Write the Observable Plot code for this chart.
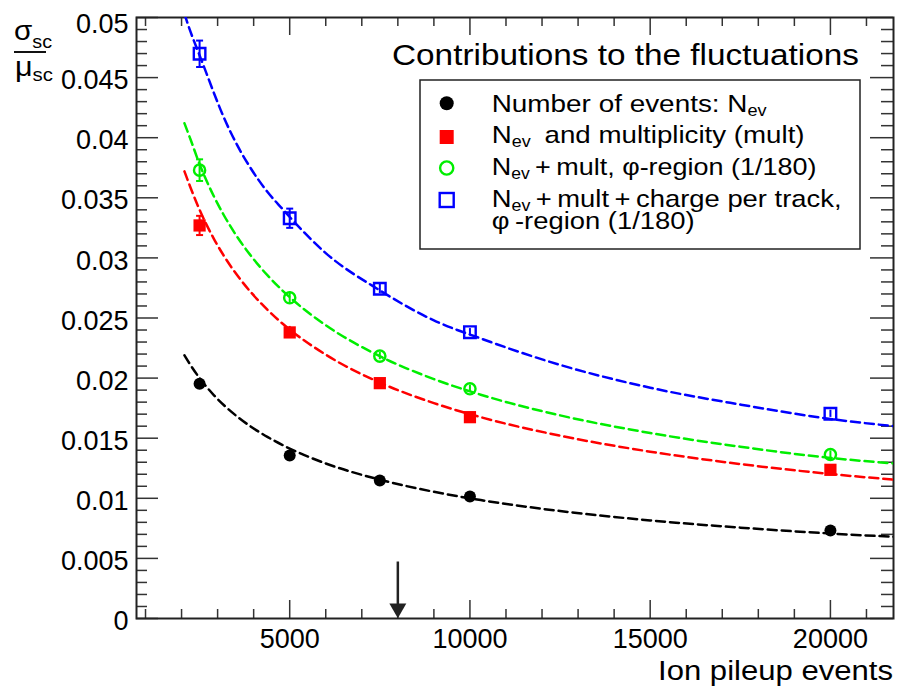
<!DOCTYPE html>
<html><head><meta charset="utf-8">
<script src="https://cdn.jsdelivr.net/npm/d3@7"></script>
<script src="https://cdn.jsdelivr.net/npm/@observablehq/plot@0.6"></script>
<style>
html,body{margin:0;padding:0;background:#fff;overflow:hidden;}
#chart{position:relative;width:899px;height:687px;}
</style></head><body><div id="chart"></div>
<script>
// ---- data ----
const eventsN = [2500, 5000, 7500, 10000, 20000];
const nevOnly = [0.01953, 0.01356, 0.01148, 0.01015, 0.00732];
const nevOnlyErr = [0.0002, 0.0002, 0.0002, 0.0002, 0.0002];
const nevMult = [0.0327, 0.0238, 0.01958, 0.01675, 0.01237];
const nevMultErr = [0.0008, 0.0005, 0.0003, 0.0003, 0.0003];
const nevMultPhi = [0.0373, 0.02668, 0.02183, 0.01911, 0.01364];
const nevMultPhiErr = [0.0009, 0.0005, 0.0003, 0.0003, 0.0003];
const nevMultChargePhi = [0.04698, 0.0333, 0.02743, 0.02382, 0.01703];
const nevMultChargePhiErr = [0.0011, 0.0008, 0.0004, 0.0003, 0.0003];

// dashed fit curves
const fitN = [2080, 2250, 2480, 2660, 2900, 3170, 3540, 3910, 4380, 4790, 5000, 6000, 7500, 9000, 10300, 12500, 15000, 17500, 20000, 21750];
const fitNevOnly = [0.0219, 0.02108, 0.02008, 0.01939, 0.01857, 0.01776, 0.01681, 0.01599, 0.01511, 0.01445, 0.01414, 0.0129, 0.01155, 0.01054, 0.00985, 0.00894, 0.00816, 0.00756, 0.00707, 0.0068];
const fitNevMult = [0.0372, 0.03584, 0.03414, 0.03296, 0.03157, 0.03019, 0.02857, 0.02719, 0.02569, 0.02456, 0.02404, 0.02195, 0.01963, 0.01792, 0.01675, 0.01521, 0.01388, 0.01285, 0.01202, 0.01155];
const fitNevMultPhi = [0.0412, 0.03985, 0.03795, 0.03664, 0.0351, 0.03357, 0.03177, 0.03023, 0.02856, 0.02731, 0.02673, 0.0244, 0.02182, 0.01992, 0.01862, 0.0169, 0.01543, 0.01429, 0.01336, 0.0129];
const fitNevMultChargePhi = [0.0503, 0.0488, 0.047, 0.0456, 0.0437, 0.0417, 0.0394, 0.0375, 0.0355, 0.0341, 0.0334, 0.0304, 0.0273, 0.0248, 0.0233, 0.0211, 0.0192, 0.0178, 0.0166, 0.016];

const xMajorTicks = [5000, 10000, 15000, 20000];
const xTickLabels = ["5000", "10000", "15000", "20000"];
const yMajorTicks = [0, 0.005, 0.01, 0.015, 0.02, 0.025, 0.03, 0.035, 0.04, 0.045, 0.05];
const yTickLabels = ["0", "0.005", "0.01", "0.015", "0.02", "0.025", "0.03", "0.035", "0.04", "0.045", "0.05"];
const xDomain = [750, 21750];
const yDomain = [0, 0.05];
const arrowAt = [8000];
const arrowTop = [0.0047];

// ---- layout ----
const W = 899, H = 687, ML = 136, MR = 6, MT = 17, MB = 69;
const IW = W - ML - MR, IH = H - MT - MB;
const FONT = "'Liberation Sans', Arial, Helvetica, sans-serif";

const xMinorTicks = d3.range(1000, 21001, 1000).filter(v => !xMajorTicks.includes(v));
const yMinorTicks = d3.range(1, 50).filter(i => i % 5 !== 0).map(i => i / 1000);

const series = [
  {key: "nev", vals: nevOnly, err: nevOnlyErr, fit: fitNevOnly, color: "#000000"},
  {key: "mult", vals: nevMult, err: nevMultErr, fit: fitNevMult, color: "#ff0000"},
  {key: "phi", vals: nevMultPhi, err: nevMultPhiErr, fit: fitNevMultPhi, color: "#00ee00"},
  {key: "charge", vals: nevMultChargePhi, err: nevMultChargePhiErr, fit: fitNevMultChargePhi, color: "#0000ff"}
];
const rows = series.flatMap(s => eventsN.map((n, i) => ({n, v: s.vals[i], e: s.err[i], key: s.key, color: s.color})));
const rowsOf = k => rows.filter(r => r.key === k);
const capped = rows.filter(r => r.e >= 0.0006);
const capSymbol = {draw(ctx, size) { const r = Math.sqrt(size / Math.PI); ctx.moveTo(-r, 0); ctx.lineTo(r, 0); }};
const arrows = arrowAt.map((x, i) => ({x, top: arrowTop[i]}));
const fmtX = d => xTickLabels[xMajorTicks.indexOf(d)];
const fmtY = d => yTickLabels[yMajorTicks.indexOf(d)];

const tickStyle = {stroke: "#333", strokeWidth: 1.5};
const plot = Plot.plot({
  width: W, height: H,
  marginLeft: ML, marginRight: MR, marginTop: MT, marginBottom: MB,
  x: {domain: xDomain, axis: null},
  y: {domain: yDomain, axis: null},
  style: {fontFamily: FONT, fontSize: "27px", color: "black", background: "white"},
  marks: [
    // inward ticks on all four sides
    Plot.tickY(yMinorTicks, {y: d => d, insetRight: IW - 11, ...tickStyle}),
    Plot.tickY(yMajorTicks, {y: d => d, insetRight: IW - 22, ...tickStyle}),
    Plot.tickY(yMinorTicks, {y: d => d, insetLeft: IW - 12, ...tickStyle}),
    Plot.tickY(yMajorTicks, {y: d => d, insetLeft: IW - 23, ...tickStyle}),
    Plot.tickX(xMinorTicks, {x: d => d, insetTop: IH - 9, ...tickStyle}),
    Plot.tickX(xMajorTicks, {x: d => d, insetTop: IH - 18, ...tickStyle}),
    Plot.tickX(xMinorTicks, {x: d => d, insetBottom: IH - 9, ...tickStyle}),
    Plot.tickX(xMajorTicks, {x: d => d, insetBottom: IH - 18, ...tickStyle}),
    Plot.axisY({ticks: yMajorTicks.slice(0, -1), tickSize: 0, tickPadding: 8, dy: 3, fontSize: 27, tickFormat: fmtY, label: null}),
    Plot.axisY({ticks: yMajorTicks.slice(-1), tickSize: 0, tickPadding: 8, dy: 7, fontSize: 27, tickFormat: fmtY, label: null}),
    Plot.axisX({ticks: xMajorTicks, tickSize: 0, tickPadding: 10, fontSize: 27, tickFormat: fmtX, label: null}),
    Plot.frame({stroke: "#222", strokeWidth: 2}),
    // arrow at 8000
    Plot.ruleX(arrows, {x: "x", y1: "top", y2: () => 0, stroke: "#222", strokeWidth: 2.5, insetBottom: 8}),
    Plot.dot(arrows, {x: "x", y: () => 0, symbol: "triangle", rotate: 180, r: 6.3, fill: "#222", stroke: "none", dy: -10}),
    // error bars
    Plot.ruleX(rows, {x: "n", y1: r => r.v - r.e, y2: r => r.v + r.e, stroke: "color", strokeWidth: 2}),
    Plot.dot(capped, {x: "n", y: r => r.v + r.e, symbol: capSymbol, r: 3.5, stroke: "color", fill: "none", strokeWidth: 2}),
    Plot.dot(capped, {x: "n", y: r => r.v - r.e, symbol: capSymbol, r: 3.5, stroke: "color", fill: "none", strokeWidth: 2}),
    // markers
    Plot.dot(rowsOf("nev"), {x: "n", y: "v", r: 6, fill: "#000", symbol: "circle"}),
    Plot.dot(rowsOf("mult"), {x: "n", y: "v", r: 6.9, fill: "#ff0000", symbol: "square"}),
    Plot.dot(rowsOf("phi"), {x: "n", y: "v", r: 5.6, fill: "none", stroke: "#00ee00", strokeWidth: 2.4, symbol: "circle"}),
    Plot.dot(rowsOf("charge"), {x: "n", y: "v", r: 6.5, fill: "none", stroke: "#0000ff", strokeWidth: 2.4, symbol: "square"}),
    // fits
    ...series.map(s => Plot.line(fitN.map((n, i) => ({n, v: s.fit[i]})), {x: "n", y: "v", stroke: s.color, strokeWidth: 2.5, strokeDasharray: "9,5", curve: "monotone-x", clip: true}))
  ]
});
document.getElementById("chart").appendChild(plot);

// ---- text, legend (drawn into the same SVG) ----
const svg = d3.select(plot);
// lines: array of arrays of parts; first line sets the stretch factor
function addText({x, y, width, anchor = "start", size, lines, lineGap = 0}) {
  const t = svg.append("text").attr("font-family", FONT).attr("font-size", size)
    .attr("fill", "black").attr("text-anchor", anchor).attr("x", 0).attr("y", 0);
  const firstLine = [];
  lines.forEach((parts, li) => {
    let shift = 0;
    parts.forEach((p, pi) => {
      const ts = t.append("tspan").text(p.t);
      const want = p.sub ? (p.dy != null ? p.dy : size * 0.2) : 0;
      if (li > 0 && pi === 0) { ts.attr("x", 0).attr("y", lineGap * li); shift = 0; }
      else if (want !== shift) { ts.attr("dy", want - shift); }
      shift = want;
      if (p.sub) ts.attr("font-size", p.size || size * 0.65);
      if (li === 0) firstLine.push(ts.node());
    });
  });
  const w = d3.sum(firstLine, n => n.getComputedTextLength());
  const sx = width ? width / w : 1;
  t.attr("transform", `translate(${x},${y}) scale(${sx},1)`);
  return t;
}

// title
addText({x: 392, y: 65, width: 467, size: 30, lines: [[{t: "Contributions to the fluctuations"}]]});
// legend box
svg.append("rect").attr("x", 420).attr("y", 80).attr("width", 440).attr("height", 169)
  .attr("fill", "white").attr("stroke", "#222").attr("stroke-width", 1.5);
const lx = 446.7;
svg.append("circle").attr("cx", lx).attr("cy", 103.3).attr("r", 7).attr("fill", "#000");
svg.append("rect").attr("x", lx - 7).attr("y", 130).attr("width", 14).attr("height", 14).attr("fill", "#ff0000");
svg.append("circle").attr("cx", lx).attr("cy", 168).attr("r", 6.6).attr("fill", "none").attr("stroke", "#00ee00").attr("stroke-width", 2.4);
svg.append("rect").attr("x", lx - 7).attr("y", 193).attr("width", 14).attr("height", 14).attr("fill", "none").attr("stroke", "#0000ff").attr("stroke-width", 2.4);
const LS = 24;
addText({x: 491.7, y: 112.3, width: 275, size: LS, lines: [[{t: "Number of events: N"}, {t: "ev", sub: true, dy: 4}]]});
addText({x: 491.7, y: 143.3, width: 313, size: LS, lines: [[{t: "N"}, {t: "ev", sub: true, dy: 4}, {t: "\u2002and multiplicity (mult)"}]]});
addText({x: 491.7, y: 175, width: 325, size: LS, lines: [[{t: "N"}, {t: "ev", sub: true, dy: 4}, {t: "\u2009+\u2009mult, \u03c6-region (1/180)"}]]});
addText({x: 491.7, y: 206.7, width: 350, size: LS, lineGap: 22.6, lines: [
  [{t: "N"}, {t: "ev", sub: true, dy: 4}, {t: "\u2009+\u2009mult\u2009+\u2009charge per track,"}],
  [{t: "\u03c6\u2009-region (1/180)"}]
]});

// axis titles
addText({x: 893, y: 680, width: 235, anchor: "end", size: 27, lines: [[{t: "Ion pileup events"}]]});
addText({x: 14, y: 39.5, width: 38, size: 27, lines: [[{t: "\u03c3"}, {t: "sc", sub: true, dy: 8, size: 18}]]});
svg.append("line").attr("x1", 14).attr("x2", 46).attr("y1", 52).attr("y2", 52).attr("stroke", "#111").attr("stroke-width", 2);
addText({x: 15, y: 76, width: 38, size: 27, lines: [[{t: "\u03bc"}, {t: "sc", sub: true, dy: 4.5, size: 18}]]});
</script></body></html>
